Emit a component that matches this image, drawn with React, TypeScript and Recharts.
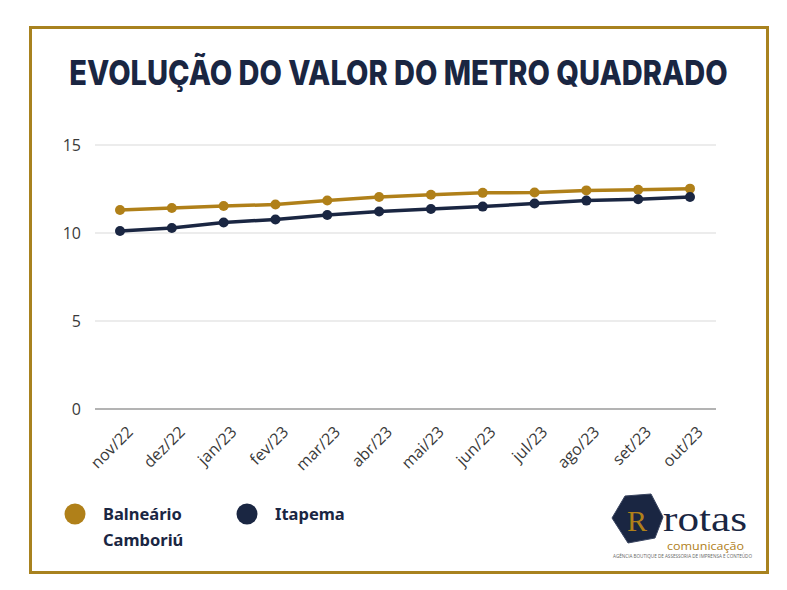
import React from 'react';
import { LineChart, Line, XAxis, YAxis, CartesianGrid } from 'recharts';

const months = ['nov/22', 'dez/22', 'jan/23', 'fev/23', 'mar/23', 'abr/23', 'mai/23', 'jun/23', 'jul/23', 'ago/23', 'set/23', 'out/23'];
const balnearioCamboriu = [11.31, 11.42, 11.53, 11.62, 11.85, 12.05, 12.17, 12.28, 12.3, 12.42, 12.46, 12.52];
const itapema = [10.11, 10.28, 10.6, 10.77, 11.02, 11.22, 11.36, 11.5, 11.68, 11.84, 11.92, 12.05];
const yTicks = [0, 5, 10, 15];

const GOLD = '#b08019';
const NAVY = '#1a2642';

const data = months.map((m, i) => ({ month: m, bc: balnearioCamboriu[i], ita: itapema[i] }));

const MonthTick = (props: any) => {
  const { x, y, payload } = props;
  return (
    <g transform={`translate(${x},${y})`}>
      <text
        x={6}
        y={16}
        dy="0.71em"
        textAnchor="end"
        transform="rotate(-45 6 16)"
        fill="#3a3a3a"
        fontSize={16}
        fontFamily="'Open Sans', sans-serif"
      >
        {payload.value}
      </text>
    </g>
  );
};

export default function App() {
  return (
    <div style={{ position: 'absolute', left: 0, top: 0, width: 787, height: 590, background: '#fff', overflow: 'hidden' }}>
      <div style={{ position: 'absolute', left: 29, top: 26, width: 734, height: 542, border: '3px solid #a8821f' }} />
      <div
        style={{
          position: 'absolute',
          left: 5,
          top: 60,
          width: 787,
          height: 29,
          lineHeight: '29px',
          textAlign: 'center',
          fontFamily: 'Inter, sans-serif',
          fontWeight: 800,
          fontSize: 29,
          color: NAVY,
          whiteSpace: 'nowrap',
          transform: 'scale(1.0, 1.18)',
          transformOrigin: '50% 25px',
        }}
      >
        EVOLUÇÃO DO VALOR DO METRO QUADRADO
      </div>
      <div style={{ position: 'absolute', left: 0, top: 0 }}>
        <LineChart width={787} height={590} data={data} margin={{ top: 145, right: 71, bottom: 121, left: 0 }}>
          <CartesianGrid vertical={false} stroke="#d9d9d9" strokeWidth={1} />
          <XAxis
            dataKey="month"
            interval={0}
            height={60}
            padding={{ left: 25, right: 26 }}
            tickSize={0}
            tickMargin={0}
            stroke="#a0a0a0"
            strokeWidth={1.5}
            tick={<MonthTick />}
          />
          <YAxis
            width={95}
            domain={[0, 15]}
            ticks={yTicks}
            axisLine={false}
            tickLine={false}
            tickSize={0}
            tickMargin={14}
            tick={{ fill: '#3a3a3a', fontSize: 16, fontFamily: "'Open Sans', sans-serif" }}
          />
          <Line
            dataKey="bc"
            stroke={GOLD}
            strokeWidth={3.5}
            dot={{ r: 5, fill: GOLD, stroke: GOLD, strokeWidth: 0 }}
            isAnimationActive={false}
          />
          <Line
            dataKey="ita"
            stroke={NAVY}
            strokeWidth={3.5}
            dot={{ r: 5, fill: NAVY, stroke: NAVY, strokeWidth: 0 }}
            isAnimationActive={false}
          />
        </LineChart>
      </div>
      <svg width={787} height={590} style={{ position: 'absolute', left: 0, top: 0, pointerEvents: 'none' }}>
        <circle cx={75} cy={514} r={10.5} fill={GOLD} />
        <text x={103} y={520} fill={NAVY} fontSize={16.5} fontWeight={700} fontFamily="'Noto Sans', sans-serif">Balneário</text>
        <text x={103} y={546} fill={NAVY} fontSize={16.5} fontWeight={700} fontFamily="'Noto Sans', sans-serif">Camboriú</text>
        <circle cx={247} cy={514} r={10.5} fill={NAVY} />
        <text x={275} y={520} fill={NAVY} fontSize={16.5} fontWeight={700} fontFamily="'Noto Sans', sans-serif">Itapema</text>
        {/* logo */}
        <polygon points="612,518 625,496 651,494 663,517 655,538 628,543" fill={NAVY} stroke="#3a4560" strokeWidth={1} />
        <text x={637} y={531} textAnchor="middle" fill={GOLD} fontSize={30} fontFamily="'Liberation Serif', serif">R</text>
        <text x={663} y={531} textLength={84} lengthAdjust="spacingAndGlyphs" fill={NAVY} fontSize={36} fontFamily="'Liberation Serif', serif">rotas</text>
        <text x={667} y={550} textLength={77} lengthAdjust="spacingAndGlyphs" fill={GOLD} fontSize={10} fontFamily="'Open Sans', sans-serif">comunicação</text>
        <text x={613} y={558} textLength={139} lengthAdjust="spacingAndGlyphs" fill="#666" fontSize={5} fontFamily="'Open Sans', sans-serif">AGÊNCIA BOUTIQUE DE ASSESSORIA DE IMPRENSA E CONTEÚDO</text>
      </svg>
    </div>
  );
}
